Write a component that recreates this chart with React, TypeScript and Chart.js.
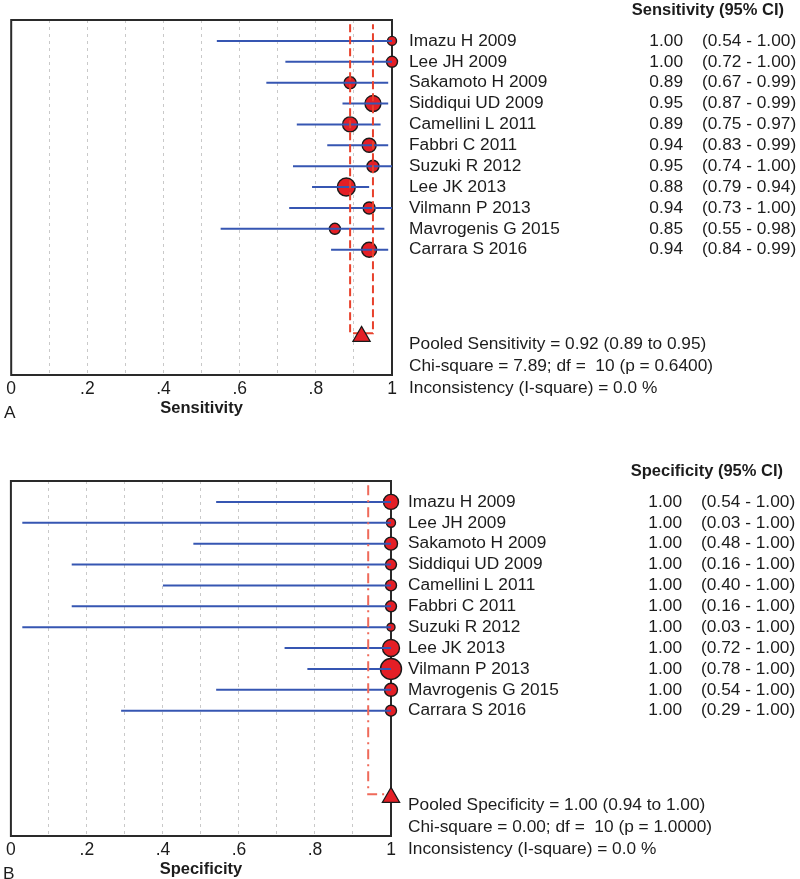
import { useEffect, useRef } from 'react';
import { Chart, registerables } from 'chart.js';

Chart.register(...registerables);

const FAMILY = '"Liberation Sans", Arial, sans-serif';
const TEXT = '#1c1c1c';
const RED = '#e41f26';
const BLUE = '#3656b2';

const studies = [
  'Imazu H 2009',
  'Lee JH 2009',
  'Sakamoto H 2009',
  'Siddiqui UD 2009',
  'Camellini L 2011',
  'Fabbri C 2011',
  'Suzuki R 2012',
  'Lee JK 2013',
  'Vilmann P 2013',
  'Mavrogenis G 2015',
  'Carrara S 2016',
];

const sensEstimate = [1.0, 1.0, 0.89, 0.95, 0.89, 0.94, 0.95, 0.88, 0.94, 0.85, 0.94];
const sensLower = [0.54, 0.72, 0.67, 0.87, 0.75, 0.83, 0.74, 0.79, 0.73, 0.55, 0.84];
const sensUpper = [1.0, 1.0, 0.99, 0.99, 0.97, 0.99, 1.0, 0.94, 1.0, 0.98, 0.99];
const sensWeight = [4.5, 5.5, 6, 8, 7.5, 7, 6, 9, 6, 5.5, 7.5];
const sensPooled = [0.92, 0.89, 0.95];
const sensStats = [
  'Pooled Sensitivity = 0.92 (0.89 to 0.95)',
  'Chi-square = 7.89; df =  10 (p = 0.6400)',
  'Inconsistency (I-square) = 0.0 %',
];

const specEstimate = [1.0, 1.0, 1.0, 1.0, 1.0, 1.0, 1.0, 1.0, 1.0, 1.0, 1.0];
const specLower = [0.54, 0.03, 0.48, 0.16, 0.4, 0.16, 0.03, 0.72, 0.78, 0.54, 0.29];
const specUpper = [1.0, 1.0, 1.0, 1.0, 1.0, 1.0, 1.0, 1.0, 1.0, 1.0, 1.0];
const specWeight = [7.5, 4.5, 6.5, 5.5, 5.5, 5.5, 4, 8.5, 10.5, 6.5, 5.5];
const specPooled = [1.0, 0.94, 1.0];
const specStats = [
  'Pooled Specificity = 1.00 (0.94 to 1.00)',
  'Chi-square = 0.00; df =  10 (p = 1.0000)',
  'Inconsistency (I-square) = 0.0 %',
];

const xTickValues = [0, 0.2, 0.4, 0.6, 0.8, 1];
const xTickLabels = ['0', '.2', '.4', '.6', '.8', '1'];

const POOLED_ROW = 15;
const TRIANGLE_ROW = 15.15;
const REF_TOP = 0.2;

type PanelProps = {
  estimate: number[];
  lower: number[];
  upper: number[];
  weight: number[];
  pooled: number[];
  stats: string[];
  header: string;
  axisTitle: string;
  letter: string;
  refColor: string;
  refDash: number[];
  top: number;
  left: number;
};

function ForestPanel(p: PanelProps) {
  const ref = useRef<HTMLCanvasElement>(null);

  useEffect(() => {
    const canvas = ref.current;
    if (!canvas) return;

    const datasets: any[] = [];

    // study markers (drawn first)
    datasets.push({
      data: p.estimate.map((v, i) => ({ x: v, y: i + 1 })),
      showLine: false,
      pointRadius: p.weight,
      pointHoverRadius: p.weight,
      pointBackgroundColor: RED,
      pointBorderColor: '#1a1a1a',
      pointBorderWidth: 1.4,
      clip: false,
      order: 5,
    });

    // confidence intervals
    p.lower.forEach((lo, i) => {
      datasets.push({
        data: [
          { x: lo, y: i + 1 },
          { x: p.upper[i], y: i + 1 },
        ],
        showLine: true,
        borderColor: BLUE,
        borderWidth: 2,
        pointRadius: 0,
        clip: false,
        order: 4,
      });
    });

    // pooled CI bracket
    const bracket = [
      { x: p.pooled[1], y: REF_TOP },
      { x: p.pooled[1], y: POOLED_ROW },
      { x: p.pooled[2], y: POOLED_ROW },
    ];
    if (p.pooled[2] < 1) bracket.push({ x: p.pooled[2], y: REF_TOP });
    datasets.push({
      data: bracket,
      showLine: true,
      borderColor: p.refColor,
      borderWidth: 2,
      borderDash: p.refDash,
      pointRadius: 0,
      clip: false,
      order: 3,
    });

    // pooled estimate
    datasets.push({
      data: [{ x: p.pooled[0], y: TRIANGLE_ROW }],
      showLine: false,
      pointStyle: 'triangle',
      pointRadius: 10,
      pointHoverRadius: 10,
      pointBackgroundColor: RED,
      pointBorderColor: '#1a1a1a',
      pointBorderWidth: 1.2,
      clip: false,
      order: 1,
    });

    const decor = {
      id: 'forestDecor',
      beforeDatasetsDraw(chart: any) {
        const { ctx, chartArea } = chart;
        const { left, top, right, bottom } = chartArea;
        ctx.save();
        ctx.strokeStyle = '#2a2a2a';
        ctx.lineWidth = 2;
        ctx.strokeRect(left, top, right - left, bottom - top);
        ctx.restore();
      },
      afterDraw(chart: any) {
        const { ctx, chartArea } = chart;
        const yScale = chart.scales.y;
        const r = chartArea.right;
        ctx.save();
        ctx.fillStyle = TEXT;
        ctx.textBaseline = 'middle';

        ctx.font = `bold 16.5px ${FAMILY}`;
        ctx.textAlign = 'right';
        ctx.fillText(p.header, r + 392, 10);

        ctx.font = `17.3px ${FAMILY}`;
        studies.forEach((name, i) => {
          const py = yScale.getPixelForValue(i + 1);
          ctx.textAlign = 'left';
          ctx.fillText(name, r + 17, py);
          ctx.textAlign = 'right';
          ctx.fillText(p.estimate[i].toFixed(2), r + 291, py);
          ctx.textAlign = 'left';
          ctx.fillText(`(${p.lower[i].toFixed(2)} - ${p.upper[i].toFixed(2)})`, r + 310, py);
        });

        const base = yScale.getPixelForValue(POOLED_ROW) + 11;
        ctx.textAlign = 'left';
        p.stats.forEach((s, k) => {
          ctx.fillText(s, r + 17, base + k * 22);
        });

        ctx.fillText(p.letter, 4, 413);
        ctx.restore();
      },
    };

    const chart = new Chart(canvas, {
      type: 'scatter',
      data: { datasets },
      plugins: [decor],
      options: {
        responsive: false,
        animation: false,
        devicePixelRatio: 1,
        layout: { padding: { left: 9, right: 408, top: 20, bottom: 0 } },
        plugins: {
          legend: { display: false },
          tooltip: { enabled: false },
        },
        events: [],
        scales: {
          x: {
            type: 'linear',
            position: 'bottom',
            min: 0,
            max: 1,
            afterFit: (scale: any) => {
              scale.height = 43;
            },
            grid: {
              drawTicks: false,
              lineWidth: 1,
              color: (c: any) =>
                c.tick && (c.tick.value <= 0.001 || c.tick.value >= 0.999)
                  ? 'rgba(0,0,0,0)'
                  : '#c9c9c9',
            },
            border: { display: false, dash: [3, 4] },
            ticks: {
              stepSize: 0.1,
              autoSkip: false,
              maxRotation: 0,
              padding: 4,
              color: TEXT,
              font: { family: FAMILY, size: 17.5 },
              callback: (v: any) => {
                const idx = xTickValues.findIndex((t) => Math.abs(t - Number(v)) < 1e-6);
                return idx >= 0 ? xTickLabels[idx] : '';
              },
            },
            title: {
              display: true,
              text: p.axisTitle,
              color: TEXT,
              font: { family: FAMILY, size: 16.5, weight: 'bold' },
              padding: { top: 0, bottom: 0 },
            },
          },
          y: {
            type: 'linear',
            display: false,
            min: 0,
            max: 17,
            reverse: true,
          },
        },
      } as any,
    });

    return () => chart.destroy();
  }, []);

  return (
    <canvas
      ref={ref}
      width={800}
      height={418}
      style={{ position: 'absolute', left: p.left, top: p.top, width: 800, height: 418, display: 'block' }}
    />
  );
}

export default function App() {
  useEffect(() => {
    document.body.style.margin = '0';
  }, []);
  return (
    <div
      style={{
        position: 'fixed',
        left: 0,
        top: 0,
        width: 800,
        height: 879,
        overflow: 'hidden',
        background: '#ffffff',
      }}
    >
      <ForestPanel
        estimate={sensEstimate}
        lower={sensLower}
        upper={sensUpper}
        weight={sensWeight}
        pooled={sensPooled}
        stats={sensStats}
        header="Sensitivity (95% CI)"
        axisTitle="Sensitivity"
        letter="A"
        refColor="#e8412c"
        refDash={[8, 4]}
        top={0}
        left={0}
      />
      <ForestPanel
        estimate={specEstimate}
        lower={specLower}
        upper={specUpper}
        weight={specWeight}
        pooled={specPooled}
        stats={specStats}
        header="Specificity (95% CI)"
        axisTitle="Specificity"
        letter="B"
        refColor="#ef6a5a"
        refDash={[10, 5, 2, 5]}
        top={461}
        left={-1}
      />
    </div>
  );
}
